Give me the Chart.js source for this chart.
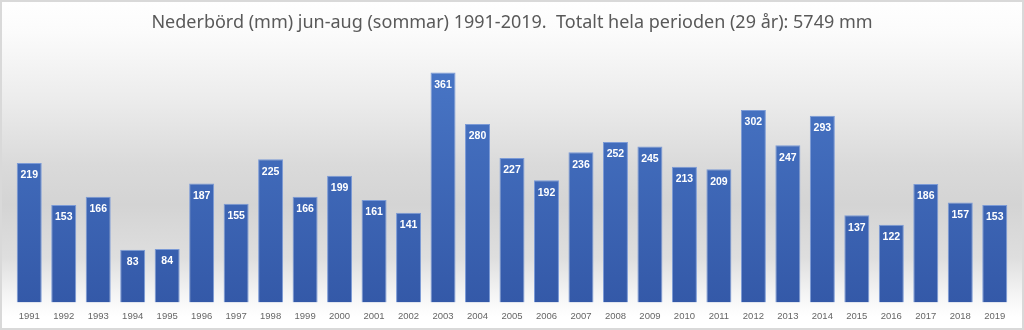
<!DOCTYPE html>
<html>
<head>
<meta charset="utf-8">
<script src="https://cdn.jsdelivr.net/npm/chart.js@4"></script>
<style>
  html, body { margin: 0; padding: 0; background: #ffffff; }
  #wrap { position: relative; width: 1024px; height: 330px; }
  #c { position: absolute; left: 0; top: 0;
       background: linear-gradient(to bottom, #ffffff 0%, #fbfbfb 10%, #ececec 30%, #dadada 50%, #d4d4d4 62%, #dedede 78%, #f6f6f6 90%, #ffffff 96%); }
  #frame { position: absolute; left: 0; top: 0; width: 1024px; height: 330px; box-sizing: border-box;
           border: 2px solid #d9d9d9; pointer-events: none; }
</style>
</head>
<body>
<div id="wrap">
  <canvas id="c" width="1024" height="330"></canvas>
  <div id="frame"></div>
</div>
<script>
const titleText = 'Nederbörd (mm) jun-aug (sommar) 1991-2019.  Totalt hela perioden (29 år): 5749 mm';
const years = ['1991','1992','1993','1994','1995','1996','1997','1998','1999','2000','2001','2002','2003','2004','2005','2006','2007','2008','2009','2010','2011','2012','2013','2014','2015','2016','2017','2018','2019'];
const precipitation = [219,153,166,83,84,187,155,225,166,199,161,141,361,280,227,192,236,252,245,213,209,302,247,293,137,122,186,157,153];

const valueLabels = {
  id: 'valueLabels',
  afterDatasetsDraw(chart) {
    const ctx = chart.ctx;
    const meta = chart.getDatasetMeta(0);
    ctx.save();
    ctx.fillStyle = '#ffffff';
    ctx.font = 'bold 10.5px "Liberation Sans", Arial, sans-serif';
    ctx.textAlign = 'center';
    ctx.textBaseline = 'middle';
    meta.data.forEach((bar, i) => {
      ctx.fillText(String(precipitation[i]), bar.x, bar.y + 12.5);
    });
    ctx.restore();
  }
};

new Chart(document.getElementById('c'), {
  type: 'bar',
  data: {
    labels: years,
    datasets: [{
      data: precipitation,
      backgroundColor(context) {
        const area = context.chart.chartArea;
        if (!area) return '#4472c4';
        const g = context.chart.ctx.createLinearGradient(0, area.top, 0, area.bottom);
        g.addColorStop(0, '#4a78c8');
        g.addColorStop(1, '#3459a8');
        return g;
      },
      borderColor: '#7b9ad6',
      borderWidth: 1,
      categoryPercentage: 1.0,
      barPercentage: 0.725
    }]
  },
  options: {
    responsive: false,
    animation: false,
    layout: { padding: { left: 12, right: 12, top: 0, bottom: 0 } },
    plugins: {
      legend: { display: false },
      tooltip: { enabled: false },
      title: {
        display: true,
        text: titleText,
        color: '#595959',
        font: { family: '"Noto Sans", "Open Sans", sans-serif', size: 18, weight: 'normal', lineHeight: 1.2 },
        padding: { top: 12, bottom: 14 }
      }
    },
    scales: {
      x: {
        grid: { display: false, drawTicks: false },
        border: { display: false },
        ticks: { color: '#666666', padding: 8, maxRotation: 0, autoSkip: false,
                 font: { family: '"Liberation Sans", Arial, sans-serif', size: 9.5 } }
      },
      y: { display: false, min: 0, max: 400 }
    }
  },
  plugins: [valueLabels]
});
</script>
</body>
</html>
